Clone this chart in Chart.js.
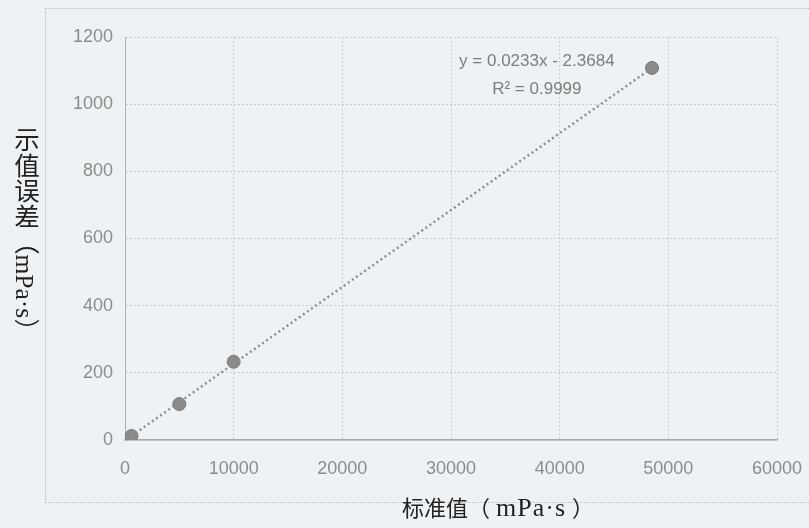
<!DOCTYPE html>
<html>
<head>
<meta charset="utf-8">
<script src="https://cdn.jsdelivr.net/npm/chart.js@4/dist/chart.umd.min.js"></script>
<style>
  html, body { margin: 0; padding: 0; background: #eef2f5; }
  #wrap { position: relative; width: 809px; height: 528px; }
  #frame { position: absolute; left: 45px; top: 8px; width: 780px; height: 493px;
           border: 1px dotted #b8bcc0; }
  #yTitle { position: absolute; left: 11px; top: 127px; writing-mode: vertical-rl;
            font-family: "Liberation Serif", "Noto Sans CJK SC", serif; font-size: 25.5px;
            color: #222; line-height: 1; }
  #xTitle { position: absolute; left: 402px; top: 492px;
            font-family: "Liberation Serif", "Noto Sans CJK SC", serif; font-size: 22px;
            color: #222; white-space: nowrap; line-height: 1.2; }
  #xTitle .lat { font-size: 26px; letter-spacing: 1px; margin: 0 6px 0 6px; }
</style>
</head>
<body>
<div id="wrap">
  <div id="frame"></div>
  <canvas id="chart" width="809" height="528"></canvas>
  <div id="yTitle">示值误差（mPa·s）</div>
  <div id="xTitle">标准值（<span class="lat">mPa·s</span>）</div>
</div>
<script>
// measured points (standard value vs. indication error)
const standardValues = [600, 5000, 10000, 48500];
const errorValues = [12, 107, 233, 1108];

// trendline as drawn (ends at first and last point)
const trendX = [600, 48500];
const trendY = [12, 1108];
const trendLabel = ['y = 0.0233x - 2.3684', 'R² = 0.9999'];

const xTicks = [0, 10000, 20000, 30000, 40000, 50000, 60000];
const yTicks = [0, 200, 400, 600, 800, 1000, 1200];

const tickFont = { family: 'Liberation Sans', size: 18 };
const gridColor = '#c9cdd1';

// equation text drawn near the top right end of the trendline
const equationPlugin = {
    id: 'equation',
    afterDatasetsDraw(chart) {
        const ctx = chart.ctx;
        const x = chart.scales.x.getPixelForValue(37900);
        const y = chart.scales.y.getPixelForValue(1128);
        ctx.save();
        ctx.fillStyle = '#7d7d7d';
        ctx.font = '17px "Liberation Sans"';
        ctx.textAlign = 'center';
        ctx.textBaseline = 'middle';
        ctx.fillText(trendLabel[0], x, y);
        ctx.fillText(trendLabel[1], x, y + 28);
        ctx.restore();
    }
};

const ctx = document.getElementById('chart').getContext('2d');
new Chart(ctx, {
    type: 'scatter',
    data: {
        datasets: [
            {
                label: 'trend',
                type: 'line',
                data: trendX.map((x, i) => ({ x: x, y: trendY[i] })),
                borderColor: '#8f8f8f',
                borderWidth: 2.5,
                borderDash: [2, 3],
                pointRadius: 0,
                fill: false
            },
            {
                label: 'data',
                data: standardValues.map((x, i) => ({ x: x, y: errorValues[i] })),
                backgroundColor: '#8a8a8a',
                borderColor: '#7a7a7a',
                pointRadius: 6.5,
                pointBorderWidth: 1
            }
        ]
    },
    options: {
        responsive: false,
        animation: false,
        layout: { padding: { top: 37, right: 32, left: 0, bottom: 0 } },
        plugins: { legend: { display: false }, tooltip: { enabled: false } },
        scales: {
            x: {
                type: 'linear',
                min: 0, max: 60000,
                afterBuildTicks: (s) => { s.ticks = xTicks.map(v => ({ value: v })); },
                afterFit: (s) => { s.height = 88; s.paddingRight = 0; s.paddingLeft = 0; },
                grid: { color: gridColor, lineWidth: 1, drawTicks: false },
                border: { color: '#a8a8a8', width: 1.5, dash: [2, 2] },
                ticks: { color: '#8c8c8c', font: tickFont, padding: 18, maxRotation: 0,
                         callback: (v) => String(v) }
            },
            y: {
                type: 'linear',
                min: 0, max: 1200,
                afterBuildTicks: (s) => { s.ticks = yTicks.map(v => ({ value: v })); },
                afterFit: (s) => { s.width = 125; },
                grid: { color: gridColor, lineWidth: 1, drawTicks: false },
                border: { color: '#b0b0b0', width: 1, dash: [2, 2] },
                ticks: { color: '#8c8c8c', font: tickFont, padding: 12,
                         callback: (v) => String(v) }
            }
        }
    },
    plugins: [equationPlugin]
});
</script>
</body>
</html>
